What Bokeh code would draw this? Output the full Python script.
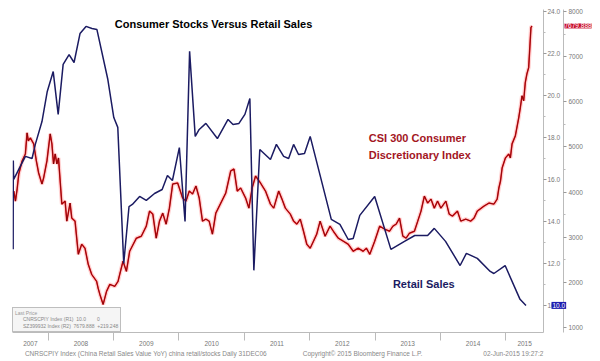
from bokeh.plotting import figure
from bokeh.layouts import column
from bokeh.models import (Range1d, LinearAxis, FixedTicker, Label, Legend, LegendItem,
                          CustomJSTickFormatter, PrintfTickFormatter)
from bokeh.core.properties import value
from bokeh.embed import file_html
from bokeh.resources import INLINE

# ---------------- data ----------------
retail_dates = [2007.463, 2007.465, 2007.471, 2007.650, 2007.752, 2007.802, 2007.904, 2007.985,
                2008.076, 2008.152, 2008.228, 2008.319, 2008.395, 2008.486, 2008.578, 2008.669,
                2008.745, 2008.912, 2009.003, 2009.064, 2009.155, 2009.236, 2009.287, 2009.398,
                2009.500, 2009.626, 2009.743, 2009.824, 2009.900, 2010.006, 2010.093, 2010.163,
                2010.249, 2010.310, 2010.412, 2010.588, 2010.751, 2010.827, 2010.918, 2011.009,
                2011.085, 2011.146, 2011.237, 2011.400, 2011.491, 2011.602, 2011.678, 2011.754,
                2011.830, 2011.921, 2012.008, 2012.331, 2012.463, 2012.590, 2012.666, 2012.767,
                2012.995, 2013.243, 2013.451, 2013.608, 2013.805, 2013.907, 2014.079, 2014.302,
                2014.398, 2014.565, 2014.763, 2014.819, 2014.991, 2015.219, 2015.310]
retail_yoy = [12.67, 16.9, 16.0, 17.1, 17.0, 17.67, 18.76, 20.19,
              21.14, 19.1, 21.48, 21.95, 21.57, 22.95, 23.29, 23.19,
              23.14, 20.76, 18.95, 18.48, 12.0, 14.71, 14.81, 15.19,
              15.0, 15.33, 15.52, 16.19, 15.95, 17.52, 14.0, 22.1,
              18.05, 18.38, 18.67, 17.95, 18.86, 18.62, 18.67, 19.1,
              19.86, 11.67, 17.43, 16.95, 17.67, 17.1, 17.0, 17.67,
              17.19, 17.24, 18.05, 14.1, 13.86, 13.14, 13.19, 14.29,
              15.19, 12.67, 13.05, 13.33, 13.33, 13.67, 13.05, 11.9,
              12.48, 12.24, 11.62, 11.52, 11.9, 10.29, 10.0]

stock_dates = [2007.473, 2007.498, 2007.524, 2007.549, 2007.600, 2007.650, 2007.676, 2007.696,
               2007.726, 2007.777, 2007.818, 2007.853, 2007.904, 2007.929, 2007.980, 2008.030,
               2008.056, 2008.081, 2008.106, 2008.132, 2008.157, 2008.208, 2008.258, 2008.284,
               2008.334, 2008.360, 2008.410, 2008.460, 2008.512, 2008.562, 2008.612, 2008.664,
               2008.740, 2008.764, 2008.790, 2008.840, 2008.892, 2008.942, 2009.018, 2009.068,
               2009.094, 2009.144, 2009.196, 2009.246, 2009.348, 2009.424, 2009.500, 2009.550,
               2009.600, 2009.652, 2009.702, 2009.752, 2009.804, 2009.854, 2009.904, 2009.980,
               2010.056, 2010.108, 2010.158, 2010.208, 2010.260, 2010.310, 2010.360, 2010.412,
               2010.462, 2010.512, 2010.564, 2010.640, 2010.716, 2010.792, 2010.842, 2010.892,
               2010.944, 2011.020, 2011.070, 2011.120, 2011.172, 2011.248, 2011.324, 2011.400,
               2011.450, 2011.526, 2011.576, 2011.628, 2011.704, 2011.754, 2011.804, 2011.856,
               2011.906, 2011.956, 2012.008, 2012.058, 2012.108, 2012.160, 2012.236, 2012.312,
               2012.362, 2012.438, 2012.514, 2012.590, 2012.666, 2012.742, 2012.818, 2012.868,
               2012.920, 2012.995, 2013.071, 2013.147, 2013.223, 2013.274, 2013.324, 2013.375,
               2013.426, 2013.476, 2013.527, 2013.603, 2013.654, 2013.704, 2013.755, 2013.806,
               2013.856, 2013.907, 2013.957, 2014.008, 2014.084, 2014.135, 2014.185, 2014.261,
               2014.312, 2014.388, 2014.464, 2014.515, 2014.565, 2014.667, 2014.743, 2014.819,
               2014.869, 2014.895, 2014.920, 2014.945, 2014.995, 2015.047, 2015.071, 2015.097,
               2015.147, 2015.199, 2015.223, 2015.249, 2015.275, 2015.299, 2015.325, 2015.351,
               2015.366, 2015.386, 2015.401]
stock_index = [4022, 3800, 4067, 4400, 4689, 4844, 5311, 5133,
               5200, 5067, 4689, 4422, 4178, 4311, 4689, 5289,
               5067, 4622, 4844, 4622, 4756, 3733, 3800, 3356,
               3756, 3422, 3356, 2622, 2844, 2756, 2400, 2178,
               2022, 1867, 1733, 1511, 1800, 1956, 1911, 2022,
               2178, 2467, 2244, 2689, 2978, 3022, 3244, 3578,
               3511, 2978, 3356, 3533, 3289, 3644, 4178, 4200,
               3867, 3800, 4022, 3956, 4133, 3867, 3356, 3400,
               3356, 3067, 3533, 3756, 3978, 4467, 4511, 4022,
               4089, 3867, 3644, 4089, 4356, 4200, 4022, 3733,
               3644, 4022, 3844, 3644, 3511, 3356, 3289, 3400,
               3133, 2844, 2756, 2911, 3067, 3356, 3022, 3244,
               3133, 2978, 2911, 2844, 2689, 2756, 2689, 2756,
               2622, 2911, 3244, 3178, 3133, 3244, 3289, 3422,
               3022, 2978, 3089, 3133, 3356, 3578, 3911, 3756,
               3844, 3644, 3800, 3644, 3800, 3511, 3467, 3578,
               3356, 3400, 3356, 3422, 3578, 3689, 3756, 3733,
               3844, 4089, 4244, 4533, 4756, 4844, 4756, 5067,
               5244, 5644, 5867, 6133, 6022, 6422, 6622, 6756,
               7133, 7644, 7679.888]
stock_change = 219.248

year_labels = [2007, 2008, 2009, 2010, 2011, 2012, 2013, 2014, 2015]
retail_ticks = [10, 12, 14, 16, 18, 20, 22, 24]
retail_minor = [11, 13, 15, 17, 19, 21, 23]
stock_ticks = [1000, 2000, 3000, 4000, 5000, 6000, 7000, 8000]
stock_minor = [1500, 2500, 3500, 4500, 5500, 6500, 7500]

footer_texts = ["CNRSCPIY Index (China Retail Sales Value YoY) china retail/stocks  Daily 31DEC06",
                "Copyright\u00a9 2015 Bloomberg Finance L.P.",
                "02-Jun-2015 19:27:27"]

# ---------------- main figure ----------------
NAVY = "#1b1b62"
W = 600
X0, X1 = 2007.453, 2015.578
p = figure(width=W, height=348, output_backend="svg", toolbar_location=None,
           x_range=Range1d(X0, X1), y_range=Range1d(889, 8044),
           y_axis_location=None, min_border_left=12, min_border_right=54,
           min_border_top=9, min_border_bottom=16,
           background_fill_color="white", border_fill_color="white")
p.extra_y_ranges = {"retail": Range1d(8.710, 24.095)}
p.outline_line_color = None
p.grid.visible = False

# red index with glow
p.line(stock_dates, stock_index, line_color="#ff2020", line_width=4, line_alpha=0.2)
p.line(stock_dates, stock_index, line_color="#e8141c", line_width=1.5)
p.line(stock_dates, stock_index, line_color="#6a0505", line_width=0.7)
# retail sales
p.line(retail_dates, retail_yoy, line_color=NAVY, line_width=1.5, y_range_name="retail")

# x axis: year labels centred in each year, separators at year boundaries
mids = [(max(y, X0) + min(y + 1, X1)) / 2 for y in year_labels]
xax = p.xaxis[0]
xax.ticker = FixedTicker(ticks=mids, minor_ticks=year_labels[1:])
xax.formatter = CustomJSTickFormatter(code="return Math.floor(tick).toString()")
xax.major_tick_out = 0
xax.major_tick_in = 0
xax.minor_tick_out = 8
xax.minor_tick_in = 0
xax.minor_tick_line_color = "#bbbbbb"
xax.axis_line_color = "#bbbbbb"
xax.major_label_standoff = 0
xax.major_label_text_font = "Liberation Sans"
xax.major_label_text_font_size = "6.5px"
xax.major_label_text_color = "#777777"

def style_y(ax):
    ax.axis_line_color = "#bbbbbb"
    ax.major_tick_line_color = "#999999"
    ax.minor_tick_line_color = "#bbbbbb"
    ax.major_tick_out = 3
    ax.major_tick_in = 0
    ax.minor_tick_out = 2
    ax.minor_tick_in = 0
    ax.major_label_standoff = 1
    ax.major_label_text_font = "Liberation Sans"
    ax.major_label_text_font_size = "6.5px"
    ax.major_label_text_color = "#777777"

r_ax = LinearAxis(y_range_name="retail", ticker=FixedTicker(ticks=retail_ticks, minor_ticks=retail_minor),
                  formatter=PrintfTickFormatter(format="%.1f"))
style_y(r_ax)
s_ax = LinearAxis(ticker=FixedTicker(ticks=stock_ticks, minor_ticks=stock_minor))
style_y(s_ax)
s_ax.major_label_standoff = 2
p.add_layout(r_ax, "right")
p.add_layout(s_ax, "right")

# last value badges (side panels, so they are not clipped to the frame)
p.add_layout(Label(x=552, x_units="screen", y=stock_index[-1], text=f"{stock_index[-1]:.3f}",
                   text_font="Liberation Sans", text_font_size="6.5px", text_color="white",
                   text_baseline="middle", background_fill_color="#c8102e", padding=0), "above")
p.add_layout(Label(x=-34, x_units="screen", y=retail_yoy[-1], y_range_name="retail",
                   text=f"{retail_yoy[-1]:.1f}",
                   text_font="Liberation Sans", text_font_size="6.5px", text_color="white",
                   text_baseline="middle", background_fill_color="#1e1eb0", padding=1), "right")

# titles / annotations
def lab(x, y, text, color, size="11px", style="bold"):
    p.add_layout(Label(x=x, y=y, text=text, text_font="Liberation Sans", text_font_size=size,
                       text_font_style=style, text_color=color, text_baseline="middle"))

lab(2009.018, 7733, "Consumer Stocks Versus Retail Sales", "black")
lab(2012.904, 5200, "CSI 300 Consumer", "#a3161f")
lab(2012.904, 4822, "Discretionary Index", "#a3161f")
lab(2013.274, 1962, "Retail Sales", NAVY)

# legend box
sq_r = p.scatter([], [], marker="square", size=5, color=NAVY, y_range_name="retail")
sq_s = p.scatter([], [], marker="square", size=5, color="#b01020")
legend = Legend(items=[
    LegendItem(label=f"CNRSCPIY Index (R1)  {retail_yoy[-1]:.1f}        0", renderers=[sq_r]),
    LegendItem(label=f"SZ399932 Index (R2)  {stock_index[-1]:.3f}  +{stock_change:.3f}", renderers=[sq_s]),
], location="bottom_left", title="Last Price")
legend.title_text_font_size = "5px"
legend.title_text_color = "#999999"
legend.title_text_font_style = "normal"
legend.title_standoff = 0
legend.label_text_font_size = "5px"
legend.label_text_color = "#888888"
legend.label_height = 5
legend.glyph_height = 5
legend.glyph_width = 5
legend.label_standoff = 3
legend.spacing = 1
legend.padding = 2
legend.margin = 0
legend.border_line_color = "#888888"
legend.background_fill_color = "#f4f4f4"
legend.background_fill_alpha = 0.9
p.add_layout(legend)

# ---------------- footer strip ----------------
FH = 13
f = figure(width=W, height=FH, output_backend="svg", toolbar_location=None,
           x_range=Range1d(0, W), y_range=Range1d(0, FH), x_axis_location=None, y_axis_location=None,
           min_border_left=0, min_border_right=0, min_border_top=0, min_border_bottom=0,
           background_fill_color="white", border_fill_color="white")
f.outline_line_color = None
f.grid.visible = False
f.text(x=[14, 328, 532], y=[FH - 1] * 3, text=footer_texts, text_font=value("Liberation Sans"),
       text_font_size="6.5px", text_color="#888888", text_baseline="top")

open("out.html", "w").write(file_html(column(p, f, spacing=0), INLINE))
